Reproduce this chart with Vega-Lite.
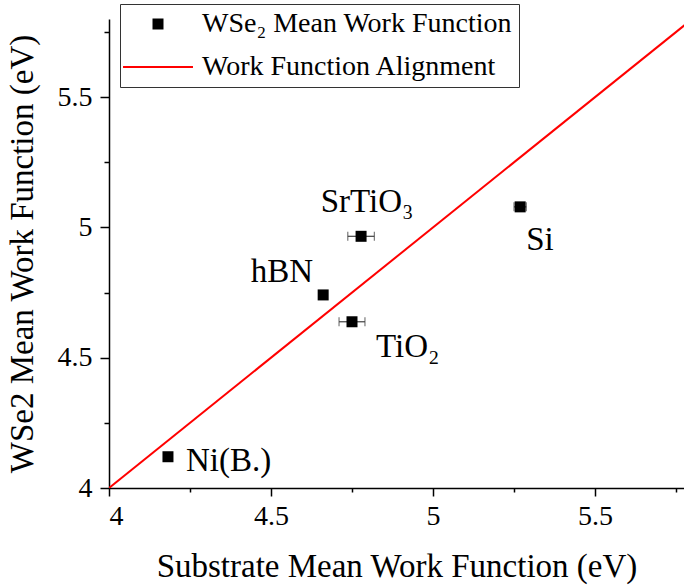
{
  "$schema": "https://vega.github.io/schema/vega-lite/v6.json",
  "width": 575,
  "height": 469,
  "autosize": "none",
  "padding": {"left": 109, "top": 19, "right": 0, "bottom": 100},
  "background": "white",
  "datasets": {
    "pts": [
      {"name": "Ni(B.)", "x": 4.182, "y": 4.120, "xlo": 4.182, "xhi": 4.182, "series": "WSe₂ Mean Work Function"},
      {"name": "hBN", "x": 4.661, "y": 4.741, "xlo": 4.661, "xhi": 4.661, "series": "WSe₂ Mean Work Function"},
      {"name": "TiO₂", "x": 4.750, "y": 4.638, "xlo": 4.710, "xhi": 4.790, "series": "WSe₂ Mean Work Function"},
      {"name": "SrTiO₃", "x": 4.778, "y": 4.966, "xlo": 4.737, "xhi": 4.819, "series": "WSe₂ Mean Work Function"},
      {"name": "Si", "x": 5.269, "y": 5.079, "xlo": 5.250, "xhi": 5.288, "series": "WSe₂ Mean Work Function"}
    ],
    "align": [
      {"x": 4, "y": 4},
      {"x": 6, "y": 6}
    ]
  },
  "resolve": {"axis": {"x": "independent", "y": "independent"}},
  "layer": [
    {
      "data": {"name": "align"},
      "mark": {"type": "line", "strokeWidth": 2, "clip": true, "color": "#ff0000"},
      "encoding": {
        "x": {"field": "x", "type": "quantitative", "scale": {"domain": [4, 5.7747], "nice": false, "zero": false},
          "axis": {"orient": "bottom", "values": [4.25, 4.75, 5.25, 5.75], "labels": false, "domain": false, "tickSize": 4, "title": null, "grid": false}},
        "y": {"field": "y", "type": "quantitative", "scale": {"domain": [4, 5.8], "nice": false, "zero": false},
          "axis": {"orient": "left", "values": [4.25, 4.75, 5.25, 5.75], "labels": false, "domain": false, "tickSize": 5, "title": null, "grid": false}}
      }
    },
    {
      "data": {"name": "pts"},
      "mark": {"type": "rule", "color": "#404040", "strokeWidth": 1.2},
      "encoding": {
        "x": {"field": "xlo", "type": "quantitative", "axis": null},
        "x2": {"field": "xhi"},
        "y": {"field": "y", "type": "quantitative", "axis": null}
      }
    },
    {
      "data": {"name": "pts"},
      "mark": {"type": "tick", "orient": "vertical", "color": "#404040", "thickness": 1.2, "size": 9},
      "encoding": {
        "x": {"field": "xlo", "type": "quantitative", "axis": null},
        "y": {"field": "y", "type": "quantitative", "axis": null}
      }
    },
    {
      "data": {"name": "pts"},
      "mark": {"type": "tick", "orient": "vertical", "color": "#404040", "thickness": 1.2, "size": 9},
      "encoding": {
        "x": {"field": "xhi", "type": "quantitative", "axis": null},
        "y": {"field": "y", "type": "quantitative", "axis": null}
      }
    },
    {
      "data": {"name": "pts"},
      "mark": {"type": "point", "filled": true, "size": 121, "opacity": 1, "strokeWidth": 0},
      "encoding": {
        "x": {"field": "x", "type": "quantitative",
          "axis": {"orient": "bottom", "values": [4, 4.5, 5, 5.5], "format": "~g", "tickSize": 8, "labelFontSize": 28, "labelPadding": 6,
            "title": "Substrate Mean Work Function (eV)", "titleFontSize": 33, "titlePadding": 20, "grid": false}},
        "y": {"field": "y", "type": "quantitative",
          "axis": {"orient": "left", "values": [4, 4.5, 5, 5.5], "format": "~g", "tickSize": 9, "labelFontSize": 28, "labelPadding": 8,
            "title": "WSe2 Mean Work Function (eV)", "titleFontSize": 33, "titlePadding": 18, "grid": false}},
        "color": {"field": "series", "type": "nominal",
          "scale": {"domain": ["WSe₂ Mean Work Function", "Work Function Alignment"], "range": ["black", "#ff0000"]},
          "legend": {
            "title": null,
            "orient": "none",
            "legendX": 11,
            "legendY": -15,
            "padding": 6,
            "strokeColor": "#333333",
            "fillColor": "white",
            "labelFont": "Liberation Serif, DejaVu Serif, serif",
            "labelFontSize": 28,
            "labelColor": "black",
            "labelLimit": 0,
            "symbolSize": 121,
            "symbolStrokeWidth": 0,
            "symbolOpacity": 1,
            "rowPadding": 15,
            "labelOffset": 30,
            "symbolOffset": 18
          }
        },
        "shape": {"field": "series", "type": "nominal",
          "scale": {"domain": ["WSe₂ Mean Work Function", "Work Function Alignment"], "range": ["square", "M-6.36,-0.18H6.36V0.18H-6.36Z"]},
          "legend": {
            "title": null,
            "orient": "none",
            "legendX": 11,
            "legendY": -15,
            "padding": 6,
            "strokeColor": "#333333",
            "fillColor": "white",
            "labelFont": "Liberation Serif, DejaVu Serif, serif",
            "labelFontSize": 28,
            "labelColor": "black",
            "labelLimit": 0,
            "symbolSize": 121,
            "symbolStrokeWidth": 0,
            "symbolOpacity": 1,
            "rowPadding": 15,
            "labelOffset": 30,
            "symbolOffset": 18
          }
        }
      }
    },
    {
      "data": {"name": "pts"},
      "transform": [{"filter": "datum.name === 'SrTiO₃'"}],
      "mark": {"type": "text", "font": "Liberation Serif, DejaVu Serif, serif", "fontSize": 33, "color": "black", "align": "center", "baseline": "middle", "dx": 6, "dy": -34},
      "encoding": {
        "x": {"field": "x", "type": "quantitative", "axis": null},
        "y": {"field": "y", "type": "quantitative", "axis": null},
        "text": {"field": "name"}
      }
    },
    {
      "data": {"name": "pts"},
      "transform": [{"filter": "datum.name === 'Si'"}],
      "mark": {"type": "text", "font": "Liberation Serif, DejaVu Serif, serif", "fontSize": 33, "color": "black", "align": "left", "baseline": "middle", "dx": 6, "dy": 33},
      "encoding": {
        "x": {"field": "x", "type": "quantitative", "axis": null},
        "y": {"field": "y", "type": "quantitative", "axis": null},
        "text": {"field": "name"}
      }
    },
    {
      "data": {"name": "pts"},
      "transform": [{"filter": "datum.name === 'hBN'"}],
      "mark": {"type": "text", "font": "Liberation Serif, DejaVu Serif, serif", "fontSize": 33, "color": "black", "align": "right", "baseline": "middle", "dx": -10, "dy": -23},
      "encoding": {
        "x": {"field": "x", "type": "quantitative", "axis": null},
        "y": {"field": "y", "type": "quantitative", "axis": null},
        "text": {"field": "name"}
      }
    },
    {
      "data": {"name": "pts"},
      "transform": [{"filter": "datum.name === 'TiO₂'"}],
      "mark": {"type": "text", "font": "Liberation Serif, DejaVu Serif, serif", "fontSize": 33, "color": "black", "align": "left", "baseline": "middle", "dx": 24, "dy": 25},
      "encoding": {
        "x": {"field": "x", "type": "quantitative", "axis": null},
        "y": {"field": "y", "type": "quantitative", "axis": null},
        "text": {"field": "name"}
      }
    },
    {
      "data": {"name": "pts"},
      "transform": [{"filter": "datum.name === 'Ni(B.)'"}],
      "mark": {"type": "text", "font": "Liberation Serif, DejaVu Serif, serif", "fontSize": 33, "color": "black", "align": "left", "baseline": "middle", "dx": 18, "dy": 4},
      "encoding": {
        "x": {"field": "x", "type": "quantitative", "axis": null},
        "y": {"field": "y", "type": "quantitative", "axis": null},
        "text": {"field": "name"}
      }
    }
  ],
  "config": {
    "view": {"stroke": null},
    "axis": {
      "grid": false,
      "domainColor": "black",
      "domainWidth": 1.5,
      "tickColor": "black",
      "tickWidth": 1.5,
      "labelColor": "black",
      "titleColor": "black",
      "labelFont": "Liberation Serif, DejaVu Serif, serif",
      "titleFont": "Liberation Serif, DejaVu Serif, serif",
      "titleFontWeight": "normal"
    }
  }
}
